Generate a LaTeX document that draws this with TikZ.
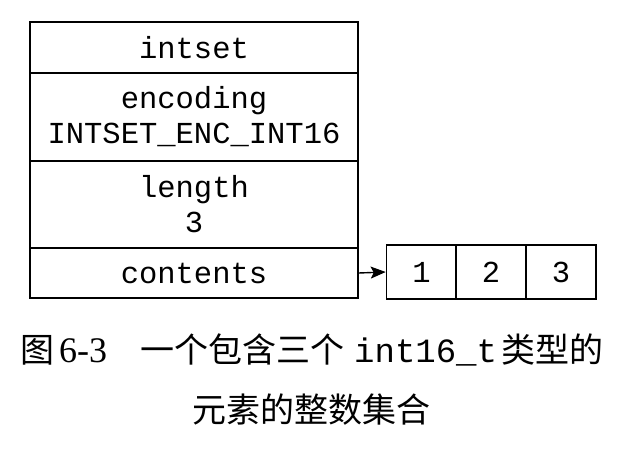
\documentclass[tikz,border=0pt]{standalone}
\usepackage{fontspec}
\setmainfont{Liberation Serif}
\newfontfamily\mono{Liberation Mono}
\newfontfamily\cjk{Noto Sans CJK SC}
\usetikzlibrary{arrows.meta}
\begin{document}
\begin{tikzpicture}[x=1pt,y=-1pt,
  cell/.style={draw=black, line width=1.6pt, inner sep=0pt, minimum width=328pt, align=center,
    font=\fontsize{30.5}{35}\mono},
  arr/.style={draw=black, line width=1.6pt, inner sep=0pt, minimum width=70pt, minimum height=54pt,
    font=\fontsize{30.5}{35}\mono},
  link/.style={line width=1.4pt, -{Stealth[length=15pt,width=12pt,inset=3pt]}},
  captext/.style={inner sep=0pt, anchor=base west, font=\fontsize{34}{40}\cjk}]
\useasboundingbox (0,0) rectangle (632,452);
\node[cell, minimum height=51pt] (hdr) at (194,47.5) {intset};
\node[cell, minimum height=88pt] (enc) at (194,117) {encoding\\INTSET\_ENC\_INT16};
\node[cell, minimum height=87pt] (len) at (194,204.5) {length\\3};
\node[cell, minimum height=50pt] (cnt) at (194,273) {contents};
\node[arr] (a1) at (421.5,272) {1};
\node[arr] (a2) at (491,272) {2};
\node[arr] (a3) at (561,272) {3};
\draw[link] (cnt.east) -- (a1.west);
\node[captext] (c1a) at (20,362) {图};
\node[captext, font=\fontsize{36}{40}\rmfamily] (c1b) at (59,362) {6-3};
\node[captext] (c1c) at (140,362) {一个包含三个};
\node[captext, font=\fontsize{34}{40}\mono] (c1d) at (354,362) {int16\_t};
\node[captext] (c1e) at (501,362) {类型的};
\node[captext] (c2) at (192,422) {元素的整数集合};
\end{tikzpicture}
\end{document}
